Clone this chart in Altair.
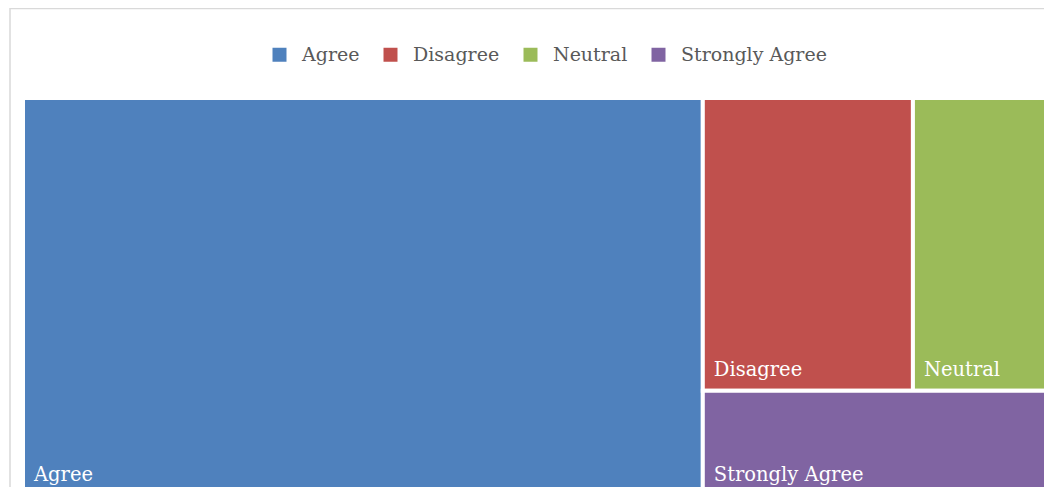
import altair as alt
import pandas as pd

categories = ["Agree", "Disagree", "Neutral", "Strongly Agree"]
values = [66, 15, 10, 9]
colors = ["#4F81BD", "#C0504D", "#9BBB59", "#8064A2"]
title_text = "Figure 3 In Covid times, at home, I was forced to change my free times to attend online class"


def layout(cats, vals):
    """Excel-like treemap: largest item as a column, the rest split into
    a top row (2nd + 3rd) and a bottom strip (4th)."""
    total = sum(vals)
    first = vals[0]
    rest = total - first
    top = vals[1] + vals[2]
    x_mid = first + rest * vals[1] / top
    y_mid = top / rest
    rows = [
        (cats[0], 0, first, 0, 1),
        (cats[1], first, x_mid, 0, y_mid),
        (cats[2], x_mid, total, 0, y_mid),
        (cats[3], first, total, y_mid, 1),
    ]
    return pd.DataFrame(rows, columns=["cat", "x0", "x1", "y0", "y1"]), total


df, total = layout(categories, values)

# visible page area (the treemap itself continues past the right/bottom edge,
# as in the cropped original)
W, H = 1021, 389
TREE_W, TREE_H = 1030, 398
FONT = "DejaVu Serif"

xs = alt.Scale(domain=[0, total], range=[0, TREE_W], nice=False, zero=False)
ys = alt.Scale(domain=[0, 1], range=[0, TREE_H], nice=False, zero=False)

border = alt.Chart(pd.DataFrame({"a": [0]})).mark_rect(
    filled=False, stroke="#d9d9d9", strokeWidth=1.5
).encode(
    x=alt.value(-13), x2=alt.value(1100), y=alt.value(-89.5), y2=alt.value(600)
)

rects = alt.Chart(df).mark_rect(stroke="white", strokeWidth=4).encode(
    x=alt.X("x0:Q", scale=xs, axis=None),
    x2="x1:Q",
    y=alt.Y("y0:Q", scale=ys, axis=None),
    y2="y1:Q",
    color=alt.Color(
        "cat:N",
        scale=alt.Scale(domain=categories, range=colors),
        legend=alt.Legend(
            title=None,
            orient="none",
            legendX=247,
            legendY=-53,
            direction="horizontal",
            symbolType="square",
            symbolSize=196,
            symbolStrokeWidth=0,
            symbolOpacity=1,
            labelFont=FONT,
            labelFontSize=19,
            labelColor="#595959",
            labelOffset=13,
            columnPadding=21,
        ),
    ),
)

labels = alt.Chart(df).mark_text(
    align="left", baseline="alphabetic", dx=11, dy=-15,
    font=FONT, fontSize=19.5, color="white"
).encode(
    x=alt.X("x0:Q", scale=xs),
    y=alt.Y("y1:Q", scale=ys),
    text="cat:N",
)

chart = alt.layer(border, rects, labels).properties(
    width=W,
    height=H,
    autosize="none",
    padding={"left": 15, "top": 90, "right": 0, "bottom": 0},
    description=title_text,
).configure_view(strokeWidth=0)

chart.save("out.html", embed_options={"renderer": "svg", "actions": False})
